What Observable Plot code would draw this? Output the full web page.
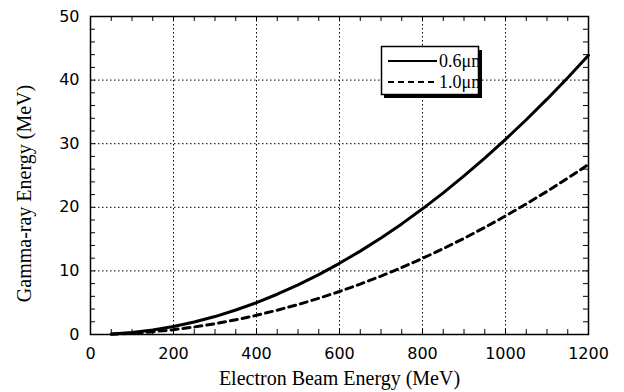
<!DOCTYPE html>
<html><head><meta charset="utf-8">
<script src="https://cdn.jsdelivr.net/npm/d3@7"></script>
<script src="https://cdn.jsdelivr.net/npm/@observablehq/plot@0.6"></script>
<style>body{margin:0;background:#fff}</style>
</head><body><div id="chart"></div>
<script>
const beamEnergy = [50,100,150,200,250,300,350,400,450,500,550,600,650,700,750,800,850,900,950,1000,1050,1100,1150,1200];
const gamma06 = [0.08,0.32,0.71,1.26,1.97,2.82,3.85,5.00,6.33,7.79,9.42,11.19,13.11,15.17,17.39,19.76,22.27,24.93,27.74,30.68,33.77,37.00,40.38,43.91];
const gamma10 = [0.05,0.19,0.43,0.76,1.18,1.70,2.31,3.02,3.82,4.71,5.69,6.76,7.93,9.18,10.53,11.97,13.50,15.12,16.83,18.64,20.53,22.51,24.58,26.74];
const seriesNames = ["0.6\u03bcm", "1.0\u03bcm"];
const xTicks = [0,200,400,600,800,1000,1200];
const yTicks = [0,10,20,30,40,50];
const xGrid = [200,400,600,800,1000];
const yGrid = [10,20,30,40];
const xMinor = d3.range(0, 1201, 50);
const yMinor = d3.range(0, 51, 2);
const xTitle = "Electron Beam Energy (MeV)";
const yTitle = "Gamma-ray Energy (MeV)";

const data = [
  ...beamEnergy.map((e, i) => ({e, g: gamma06[i], s: seriesNames[0]})),
  ...beamEnergy.map((e, i) => ({e, g: gamma10[i], s: seriesNames[1]}))
];

const W = 624, H = 392, mL = 90, mR = 36, mT = 16, mB = 58;
const pw = W - mL - mR, ph = H - mT - mB;
const grid = {stroke: "black", strokeWidth: 1, strokeOpacity: 1, strokeDasharray: "1.5,2.5"};

const plot = Plot.plot({
  width: W, height: H,
  marginLeft: mL, marginRight: mR, marginTop: mT, marginBottom: mB,
  x: {domain: [0, 1200]},
  y: {domain: [0, 50]},
  style: {fontFamily: "DejaVu Sans", fontSize: "16px", color: "black", background: "white", overflow: "visible"},
  marks: [
    Plot.ruleX(xGrid, grid),
    Plot.ruleY(yGrid, grid),
    Plot.tickX(xMinor, {x: d => d, insetTop: ph - 5, stroke: "black", strokeWidth: 1}),
    Plot.tickX(xMinor, {x: d => d, insetBottom: ph - 5, stroke: "black", strokeWidth: 1}),
    Plot.tickY(yMinor, {y: d => d, insetRight: pw - 5, stroke: "black", strokeWidth: 1}),
    Plot.tickY(yMinor, {y: d => d, insetLeft: pw - 5, stroke: "black", strokeWidth: 1}),
    Plot.line(data.filter(d => d.s === seriesNames[0]), {x: "e", y: "g", stroke: "black", strokeWidth: 3}),
    Plot.line(data.filter(d => d.s === seriesNames[1]), {x: "e", y: "g", stroke: "black", strokeWidth: 3, strokeDasharray: "7,5"}),
    Plot.frame({stroke: "black", strokeWidth: 1.5}),
    Plot.axisX({ticks: xTicks, tickSize: 0, tickPadding: 13, label: null, tickFormat: d => String(d), fontWeight: 500}),
    Plot.axisY({ticks: yTicks, tickSize: 0, tickPadding: 11, label: null, tickFormat: d => String(d), fontWeight: 500}),
    Plot.text([xTitle], {text: d => d, frameAnchor: "bottom", dy: 50, fontFamily: "Liberation Serif", fontSize: 20, fill: "black"}),
    Plot.text([yTitle], {text: d => d, frameAnchor: "left", textAnchor: "middle", dx: -66, dy: 18, rotate: -90, fontFamily: "Liberation Serif", fontSize: 20, fill: "black"})
  ]
});

// legend
const svg = d3.select(plot);
const defs = svg.append("defs");
defs.append("clipPath").attr("id", "lgclip").append("rect")
  .attr("x", 382).attr("y", 47).attr("width", 96).attr("height", 47);
const lg = svg.append("g");
lg.append("rect").attr("x", 384).attr("y", 50).attr("width", 98).attr("height", 48).attr("fill", "black");
lg.append("rect").attr("x", 381.5).attr("y", 46.5).attr("width", 97).attr("height", 48)
  .attr("fill", "white").attr("stroke", "black").attr("stroke-width", 1.5);
const styles = [{dash: null}, {dash: "6,4"}];
seriesNames.forEach((name, i) => {
  const y = 61 + i * 21;
  lg.append("line").attr("x1", 388).attr("x2", 437).attr("y1", y).attr("y2", y)
    .attr("stroke", "black").attr("stroke-width", 2)
    .attr("stroke-dasharray", styles[i].dash);
  lg.append("text").attr("x", 439).attr("y", y + 5.5)
    .attr("text-anchor", "start")
    .attr("clip-path", "url(#lgclip)")
    .attr("font-family", "Liberation Serif").attr("font-size", 18).attr("fill", "black")
    .text(name);
});

document.getElementById("chart").appendChild(plot);
</script>
</body></html>
